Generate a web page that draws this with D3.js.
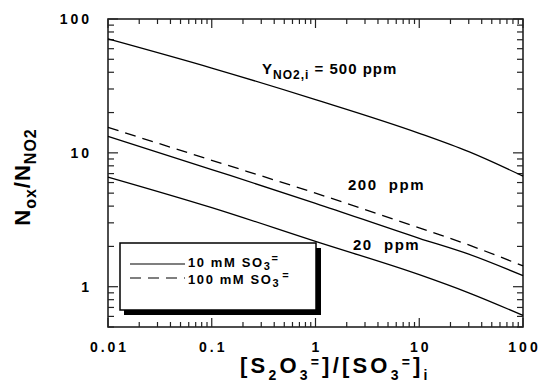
<!DOCTYPE html>
<html><head><meta charset="utf-8">
<script src="https://cdn.jsdelivr.net/npm/d3@7"></script>
<style>
body{margin:0;background:#fff;}
text{font-family:"Liberation Sans",Arial,sans-serif;font-weight:bold;fill:#000;}
</style>
</head><body>
<svg id="c" width="541" height="392"></svg>
<script>
const xVals = [0.01, 0.1, 1, 10, 30, 100];
const y500 = [71, 43, 25, 14, 10.2, 6.7];
const y200 = [13.3, 7.5, 4.2, 2.3, 1.75, 1.21];
const y200dashed = [15.5, 8.8, 5.0, 2.75, 2.05, 1.43];
const y20 = [6.6, 3.9, 2.18, 1.23, 0.9, 0.61];
const xTickVals = [0.01, 0.1, 1, 10, 100];
const xTickLabels = ["0.01", "0.1", "1", "10", "100"];
const yTickVals = [1, 10, 100];
const yTickLabels = ["1", "10", "100"];

const svg = d3.select("#c");
const L = 108, R = 523, T = 19, B = 327;
const x = d3.scaleLog().domain([0.01, 100]).range([L, R]);
const y = d3.scaleLog().domain([0.5, 100]).range([B, T]);

function minors(lo, hi) {
  const out = [];
  for (let e = Math.floor(Math.log10(lo)); e <= Math.ceil(Math.log10(hi)); e++) {
    for (let m = 1; m <= 9; m++) {
      const v = m * Math.pow(10, e);
      if (v >= lo * 0.999 && v <= hi * 1.001) out.push(v);
    }
  }
  return out;
}
const xm = minors(0.01, 100), ym = minors(0.5, 100);
const isMajor = v => Math.abs(Math.log10(v) - Math.round(Math.log10(v))) < 1e-6;

const g = svg.append("g").attr("stroke", "#222").attr("stroke-width", 1.2);
xm.forEach(v => {
  const len = isMajor(v) ? 9 : 5;
  g.append("line").attr("x1", x(v)).attr("x2", x(v)).attr("y1", B).attr("y2", B - len);
  g.append("line").attr("x1", x(v)).attr("x2", x(v)).attr("y1", T).attr("y2", T + len);
});
ym.forEach(v => {
  const len = isMajor(v) ? 10 : 6;
  g.append("line").attr("y1", y(v)).attr("y2", y(v)).attr("x1", L).attr("x2", L + len);
  g.append("line").attr("y1", y(v)).attr("y2", y(v)).attr("x1", R).attr("x2", R - len);
});
svg.append("rect").attr("x", L).attr("y", T).attr("width", R - L).attr("height", B - T)
  .attr("fill", "none").attr("stroke", "#222").attr("stroke-width", 1.6);

xTickVals.forEach((v, i) => {
  svg.append("text").attr("x", x(v) + 1.5).attr("y", 352).attr("text-anchor", "middle")
    .attr("font-size", 14).attr("letter-spacing", 3).text(xTickLabels[i]);
});
yTickVals.forEach((v, i) => {
  svg.append("text").attr("x", 92).attr("y", y(v) + 5).attr("text-anchor", "end")
    .attr("font-size", 14).attr("letter-spacing", 3).text(yTickLabels[i]);
});

const line = d3.line().x(d => x(d[0])).y(d => y(d[1])).curve(d3.curveMonotoneX);
const curves = [
  {v: y500, dash: null},
  {v: y200, dash: null},
  {v: y200dashed, dash: "11,7"},
  {v: y20, dash: null}
];
curves.forEach(c => {
  svg.append("path").datum(xVals.map((xv, i) => [xv, c.v[i]]))
    .attr("d", line).attr("fill", "none").attr("stroke", "#000").attr("stroke-width", 1.3)
    .attr("stroke-dasharray", c.dash);
});

// annotations
const a1 = svg.append("text").attr("x", 262).attr("y", 74).attr("font-size", 15).attr("letter-spacing", 1);
a1.append("tspan").text("Y");
a1.append("tspan").attr("font-size", 12).attr("dy", 5).text("NO2,i");
a1.append("tspan").attr("dy", -5).attr("xml:space", "preserve").text(" = 500 ppm");
svg.append("text").attr("x", 348).attr("y", 190).attr("font-size", 15).attr("letter-spacing", 1.5)
  .attr("xml:space", "preserve").text("200  ppm");
svg.append("text").attr("x", 353).attr("y", 250).attr("font-size", 15).attr("letter-spacing", 1.5)
  .attr("xml:space", "preserve").text("20  ppm");

// legend
svg.append("rect").attr("x", 124).attr("y", 248).attr("width", 197).attr("height", 67).attr("fill", "#000");
svg.append("rect").attr("x", 120).attr("y", 243).attr("width", 196).attr("height", 67)
  .attr("fill", "#fff").attr("stroke", "#000").attr("stroke-width", 1.5);
svg.append("line").attr("x1", 130).attr("x2", 185).attr("y1", 264).attr("y2", 264)
  .attr("stroke", "#000").attr("stroke-width", 1.2);
svg.append("line").attr("x1", 130).attr("x2", 185).attr("y1", 278).attr("y2", 278)
  .attr("stroke", "#000").attr("stroke-width", 1.2).attr("stroke-dasharray", "11,7");
function legText(yy, label, eqShift) {
  const t = svg.append("text").attr("x", 188).attr("y", yy).attr("font-size", 13).attr("letter-spacing", 1.6);
  t.append("tspan").text(label + " SO");
  t.append("tspan").attr("font-size", 11).attr("dy", 3).text("3");
  t.append("tspan").attr("font-size", 11).attr("dx", eqShift).attr("dy", -8).text("=");
}
legText(267, "10 mM", 0);
legText(284, "100 mM", 2);

// axis titles
const xt = svg.append("text").attr("x", 240).attr("y", 373).attr("font-size", 22).attr("letter-spacing", 3.2);
xt.append("tspan").text("[S");
xt.append("tspan").attr("font-size", 14).attr("dy", 7).text("2");
xt.append("tspan").attr("dy", -7).text("O");
xt.append("tspan").attr("font-size", 14).attr("dy", 7).text("3");
xt.append("tspan").attr("font-size", 14).attr("dy", -13).text("=");
xt.append("tspan").attr("dy", 6).text("]/[SO");
xt.append("tspan").attr("font-size", 14).attr("dy", 7).text("3");
xt.append("tspan").attr("font-size", 14).attr("dy", -13).text("=");
xt.append("tspan").attr("dy", 6).text("]");
xt.append("tspan").attr("font-size", 14).attr("dy", 7).text("i");

const yt = svg.append("text").attr("transform", "translate(30,177) rotate(-90)")
  .attr("text-anchor", "middle").attr("font-size", 22).attr("letter-spacing", 1);
yt.append("tspan").text("N");
yt.append("tspan").attr("font-size", 16).attr("dy", 6).text("ox");
yt.append("tspan").attr("dy", -6).text("/N");
yt.append("tspan").attr("font-size", 16).attr("dy", 6).text("NO2");
</script>
</body></html>
